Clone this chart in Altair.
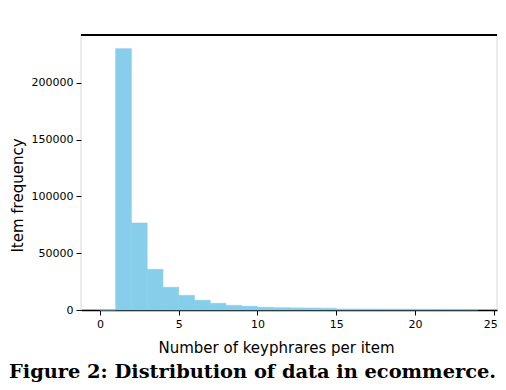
import altair as alt
import pandas as pd

# Histogram bins (edges) and item counts
bin_start = list(range(0, 24))
bin_end = list(range(1, 25))
counts = [0, 230000, 76500, 35800, 20000, 12900, 8500, 5900, 4100, 3300,
          2400, 2000, 1800, 1700, 1600, 900, 850, 800, 750, 700,
          650, 600, 600, 550]

x_ticks = [0, 5, 10, 15, 20, 25]
y_ticks = [0, 50000, 100000, 150000, 200000]
x_title = "Number of keyphrares per item"
y_title = "Item frequency"
caption = "Figure 2: Distribution of data in ecommerce."

df = pd.DataFrame({"start": bin_start, "end": bin_end, "count": counts})

last_x = x_ticks[-1]

bars = alt.Chart(df).mark_bar(
    color="#87CEEB", stroke="#87CEEB", strokeWidth=0.6
).encode(
    x=alt.X(
        "start:Q",
        scale=alt.Scale(domain=[-1.2, 25.2], nice=False, zero=False),
        axis=alt.Axis(
            values=x_ticks, title=x_title, format="d",
            domainColor="black", domainWidth=1.5,
            titleX=195, titleY=42.5, titleAlign="center",
            titleBaseline="alphabetic", labelPadding=3,
            labelAlign={"condition": {"test": f"datum.value === {last_x}", "value": "right"},
                        "value": "center"},
            labelOffset={"condition": {"test": f"datum.value === {last_x}", "value": 3.5},
                         "value": 0},
        ),
    ),
    x2="end:Q",
    y=alt.Y(
        "count:Q",
        scale=alt.Scale(domain=[0, 242000], nice=False),
        axis=alt.Axis(
            values=y_ticks, title=y_title, format="d",
            domain=False,
            titleX=-59, titleY=160, titleAlign="center",
            titleBaseline="alphabetic", titleAngle=270, labelPadding=3,
        ),
    ),
    y2=alt.datum(0),
)

top_rule = alt.Chart(df).mark_rule(color="black", strokeWidth=1.3).encode(
    y=alt.value(0)
)

cap_df = pd.DataFrame({"t": [caption]})
cap_text = alt.Chart(cap_df).mark_text(
    align="left", baseline="alphabetic", font="DejaVu Serif",
    fontWeight="bold", fontSize=19.4, color="black",
).encode(x=alt.value(-72), y=alt.value(343), text="t:N")

chart = alt.layer(bars, top_rule, cap_text).properties(
    width=416,
    height=275,
    padding={"left": 73, "top": 27, "right": 1, "bottom": 72},
    autosize=alt.AutoSizeParams(type="none"),
).configure_view(
    stroke="#e6e6e6", strokeWidth=1.5
).configure_axis(
    grid=False,
    labelFont="DejaVu Sans", labelFontSize=11, labelColor="black",
    titleFont="DejaVu Sans", titleFontSize=15, titleFontWeight="normal",
    titleColor="black",
    tickColor="black", tickSize=5, tickWidth=1,
)

chart.save("out.html", embed_options={"renderer": "svg", "actions": False})
